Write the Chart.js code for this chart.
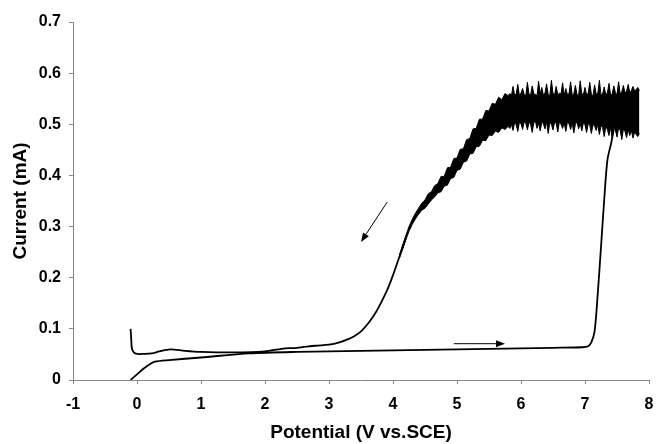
<!DOCTYPE html>
<html>
<head>
<meta charset="utf-8">
<script src="https://cdn.jsdelivr.net/npm/chart.js@4.4.1/dist/chart.umd.min.js"></script>
<style>
  html, body { margin: 0; padding: 0; background: #fff; }
  #wrap { width: 656px; height: 444px; }
</style>
</head>
<body>
<div id="wrap"><canvas id="cv" width="656" height="444"></canvas></div>
<script>
// forward sweep (anodic), smooth part
const fwdV = [-0.10, 0.00, 0.10, 0.20, 0.28, 0.50, 1.00, 1.75, 2.50, 3.50, 4.50, 5.50, 6.50, 6.95, 7.05, 7.10, 7.15, 7.20, 7.25, 7.30, 7.35, 7.41, 7.45];
const fwdI = [0.000, 0.011, 0.022, 0.031, 0.036, 0.039, 0.044, 0.052, 0.055, 0.057, 0.059, 0.061, 0.063, 0.064, 0.066, 0.074, 0.095, 0.170, 0.260, 0.352, 0.430, 0.464, 0.490];

// reverse sweep below the noisy region
const revV = [4.20, 4.10, 4.00, 3.91, 3.78, 3.70, 3.62, 3.50, 3.40, 3.30, 3.15, 3.00, 2.79, 2.50, 2.26, 2.00, 1.50, 1.00, 0.75, 0.52, 0.35, 0.23, 0.10, 0.00, -0.05, -0.08, -0.09, -0.10];
const revI = [0.277, 0.241, 0.205, 0.176, 0.143, 0.126, 0.112, 0.095, 0.086, 0.080, 0.073, 0.069, 0.067, 0.063, 0.061, 0.056, 0.054, 0.055, 0.057, 0.060, 0.056, 0.052, 0.051, 0.051, 0.054, 0.062, 0.080, 0.100];

// noisy band: upper and lower envelope of the oscillating current
const bandV = [
  4.10, 4.15, 4.20, 4.25, 4.30, 4.35, 4.40, 4.45, 4.50, 4.55, 4.60, 4.65, 4.70, 4.75, 4.80, 4.85, 4.90,
  4.95, 5.00, 5.05, 5.10, 5.15, 5.20, 5.25, 5.30, 5.35, 5.40, 5.45, 5.50, 5.55, 5.60, 5.65, 5.70, 5.75,
  5.800, 5.825, 5.850, 5.875, 5.900, 5.925, 5.950, 5.975, 6.000, 6.025,
  6.050, 6.075, 6.100, 6.125, 6.150, 6.175, 6.200, 6.225, 6.250, 6.275,
  6.300, 6.325, 6.350, 6.375, 6.400, 6.425, 6.450, 6.475, 6.500, 6.525,
  6.550, 6.575, 6.600, 6.625, 6.650, 6.675, 6.700, 6.725, 6.750, 6.775,
  6.800, 6.825, 6.850, 6.875, 6.900, 6.925, 6.950, 6.975, 7.000, 7.025,
  7.050, 7.075, 7.100, 7.125, 7.150, 7.175, 7.200, 7.225, 7.250, 7.275,
  7.300, 7.325, 7.350, 7.375, 7.400, 7.425, 7.450, 7.475, 7.500, 7.525,
  7.550, 7.575, 7.600, 7.625, 7.650, 7.675, 7.700, 7.725, 7.750, 7.775,
  7.800, 7.825, 7.850
];
const bandHi = [
  0.244, 0.264, 0.282, 0.300, 0.314, 0.326, 0.336, 0.346, 0.352, 0.364, 0.368, 0.380, 0.384, 0.398, 0.398, 0.415, 0.416,
  0.433, 0.434, 0.451, 0.452, 0.470, 0.472, 0.491, 0.492, 0.510, 0.510, 0.527, 0.526, 0.541, 0.539, 0.553, 0.548, 0.560,
  0.556, 0.560, 0.556, 0.574, 0.557, 0.559, 0.578, 0.556, 0.561, 0.570,
  0.558, 0.556, 0.582, 0.559, 0.557, 0.575, 0.560, 0.558, 0.556, 0.584,
  0.559, 0.572, 0.557, 0.561, 0.579, 0.558, 0.556, 0.586, 0.560, 0.558,
  0.574, 0.557, 0.561, 0.559, 0.581, 0.556, 0.570, 0.558, 0.560, 0.583,
  0.557, 0.559, 0.576, 0.558, 0.556, 0.585, 0.560, 0.558, 0.572, 0.557,
  0.561, 0.582, 0.558, 0.556, 0.577, 0.559, 0.560, 0.586, 0.557, 0.559,
  0.573, 0.558, 0.561, 0.580, 0.557, 0.559, 0.575, 0.562, 0.558, 0.583,
  0.560, 0.563, 0.576, 0.561, 0.565, 0.578, 0.562, 0.566, 0.574, 0.565,
  0.568, 0.572, 0.566
];
const bandLo = [
  0.238, 0.256, 0.274, 0.291, 0.304, 0.315, 0.324, 0.332, 0.336, 0.344, 0.352, 0.358, 0.366, 0.368, 0.379, 0.381, 0.394,
  0.396, 0.410, 0.412, 0.426, 0.428, 0.442, 0.443, 0.456, 0.457, 0.469, 0.468, 0.479, 0.478, 0.487, 0.484, 0.493, 0.490,
  0.496, 0.492, 0.500, 0.488, 0.503, 0.499, 0.486, 0.504, 0.501, 0.490,
  0.505, 0.502, 0.489, 0.504, 0.500, 0.484, 0.503, 0.506, 0.492, 0.502,
  0.487, 0.504, 0.501, 0.491, 0.505, 0.482, 0.503, 0.500, 0.489, 0.504,
  0.502, 0.485, 0.505, 0.500, 0.492, 0.503, 0.486, 0.504, 0.501, 0.490,
  0.503, 0.483, 0.500, 0.505, 0.491, 0.502, 0.487, 0.503, 0.499, 0.484,
  0.501, 0.498, 0.482, 0.500, 0.496, 0.488, 0.499, 0.480, 0.497, 0.494,
  0.476, 0.495, 0.490, 0.478, 0.494, 0.472, 0.492, 0.489, 0.475, 0.493,
  0.488, 0.470, 0.491, 0.486, 0.474, 0.490, 0.478, 0.488, 0.473, 0.485,
  0.480, 0.476, 0.482
];

// scan direction arrows [fromV, fromI, toV, toI]
const arrows = [
  [3.91, 0.348, 3.50, 0.270],
  [4.95, 0.071, 5.75, 0.071]
];

const xTicks = [-1, 0, 1, 2, 3, 4, 5, 6, 7, 8];
const yTicks = [0, 0.1, 0.2, 0.3, 0.4, 0.5, 0.6, 0.7];

const pts = (xs, ys) => xs.map((x, i) => ({ x, y: ys[i] }));

const arrowPlugin = {
  id: 'scanArrows',
  afterDatasetsDraw(chart) {
    const { ctx, scales: { x, y } } = chart;
    ctx.save();
    ctx.strokeStyle = '#000';
    ctx.fillStyle = '#000';
    ctx.lineWidth = 1;
    arrows.forEach(([v0, i0, v1, i1]) => {
      const x0 = x.getPixelForValue(v0), y0 = y.getPixelForValue(i0);
      const x1 = x.getPixelForValue(v1), y1 = y.getPixelForValue(i1);
      const a = Math.atan2(y1 - y0, x1 - x0);
      const len = 9, w = 3.5;
      const bx = x1 - len * Math.cos(a), by = y1 - len * Math.sin(a);
      ctx.beginPath();
      ctx.moveTo(x0, y0);
      ctx.lineTo(bx, by);
      ctx.stroke();
      ctx.beginPath();
      ctx.moveTo(x1, y1);
      ctx.lineTo(bx + w * Math.sin(a), by - w * Math.cos(a));
      ctx.lineTo(bx - w * Math.sin(a), by + w * Math.cos(a));
      ctx.closePath();
      ctx.fill();
    });
    ctx.restore();
  }
};

const tickFont = { family: '"Liberation Sans", Arial, sans-serif', size: 16, weight: 'bold' };
const titleFont = { family: '"Liberation Sans", Arial, sans-serif', size: 19, weight: 'bold' };
const lineCommon = { showLine: true, pointRadius: 0, borderColor: '#000', tension: 0.3, fill: false };

new Chart(document.getElementById('cv'), {
  type: 'scatter',
  data: {
    datasets: [
      { ...lineCommon, data: pts(fwdV, fwdI), borderWidth: 1.8 },
      { ...lineCommon, data: pts(revV, revI), borderWidth: 1.8 },
      { ...lineCommon, data: pts(bandV, bandHi), borderWidth: 1, tension: 0, fill: '+1', backgroundColor: '#000' },
      { ...lineCommon, data: pts(bandV, bandLo), borderWidth: 1, tension: 0 }
    ]
  },
  options: {
    responsive: false,
    animation: false,
    events: [],
    layout: { padding: { top: 22, right: 7, left: 0, bottom: 0 } },
    plugins: { legend: { display: false }, tooltip: { enabled: false } },
    scales: {
      x: {
        type: 'linear',
        min: -1, max: 8,
        afterFit: (s) => { s.height = 64; s.paddingLeft = 0; s.paddingRight = 0; },
        afterBuildTicks: (s) => { s.ticks = xTicks.map((v) => ({ value: v })); },
        grid: { drawOnChartArea: false, drawTicks: true, tickLength: 4, color: '#888' },
        border: { display: true, color: '#888', width: 1 },
        ticks: { color: '#000', font: tickFont, padding: 11, maxRotation: 0 },
        title: { display: true, text: 'Potential (V vs.SCE)', color: '#000', font: titleFont, padding: { top: 0, bottom: 0 } }
      },
      y: {
        type: 'linear',
        min: 0, max: 0.7,
        afterFit: (s) => { s.width = 73; s.paddingTop = 0; s.paddingBottom = 0; },
        afterBuildTicks: (s) => { s.ticks = yTicks.map((v) => ({ value: v })); },
        grid: { drawOnChartArea: false, drawTicks: true, tickLength: 4, color: '#888' },
        border: { display: true, color: '#888', width: 1 },
        ticks: { color: '#000', font: tickFont, padding: 8, callback: (v) => (v === 0 ? '0' : v.toFixed(1)) },
        title: { display: true, text: 'Current (mA)', color: '#000', font: titleFont, padding: { top: 9, bottom: 0 } }
      }
    }
  },
  plugins: [arrowPlugin]
});
</script>
</body>
</html>
